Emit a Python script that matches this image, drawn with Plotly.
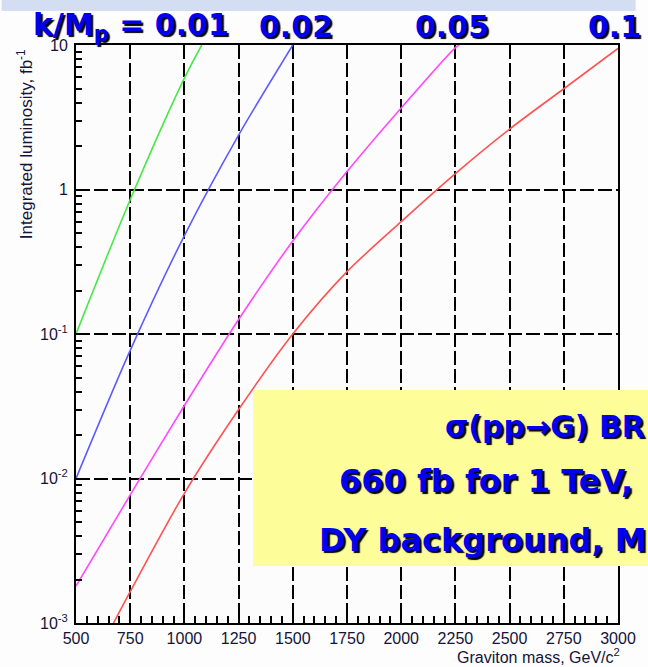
import plotly.graph_objects as go

# Integrated luminosity needed for discovery vs graviton mass, per coupling k/M_p
mass_001 = [500, 750, 1000, 1080]
lumi_001 = [0.1, 0.85, 5.9, 10]

mass_002 = [500, 750, 1000, 1250, 1500]
lumi_002 = [0.01, 0.077, 0.48, 2.38, 10]

mass_005 = [500, 750, 1000, 1250, 1500, 1750, 2000, 2250, 2267]
lumi_005 = [0.0018, 0.0077, 0.032, 0.126, 0.44, 1.33, 3.67, 9.6, 10]

mass_01 = [673, 750, 1000, 1250, 1500, 1750, 2000, 2250, 2500, 2750, 3000]
lumi_01 = [0.001, 0.00165, 0.0079, 0.030, 0.1, 0.27, 0.60, 1.29, 2.62, 4.98, 9.46]

coupling_labels = ["0.01", "0.02", "0.05", "0.1"]
x_ticks = [500, 750, 1000, 1250, 1500, 1750, 2000, 2250, 2500, 2750, 3000]
y_ticks = [0.001, 0.01, 0.1, 1, 10]
y_ticktext = ["10<sup>-3</sup>", "10<sup>-2</sup>", "10<sup>-1</sup>", "1", "10"]
y_minor = [m * 10.0 ** e for e in range(-3, 1) for m in range(2, 10)]

box_lines = ["σ(pp→G) BR", "660 fb for 1 TeV,", "DY background, M("]

W, H = 648, 667
L, R, T, B = 76, 18, 45, 44
PW, PH = W - L - R, H - T - B


def px(x):
    return (x - L) / PW


def py(y):
    return (H - B - y) / PH


fig = go.Figure()
series = [
    (mass_001, lumi_001, "#46e846"),
    (mass_002, lumi_002, "#5c5cff"),
    (mass_005, lumi_005, "#ff48ff"),
    (mass_01, lumi_01, "#ff5252"),
]
for (m, lum, c), name in zip(series, coupling_labels):
    fig.add_trace(go.Scatter(x=m, y=lum, mode="lines", name=name,
                             line=dict(color=c, width=1.6, shape="spline", smoothing=0.8),
                             showlegend=False))

tickfont = dict(family="Liberation Sans", size=16, color="#14143a")

fig.update_xaxes(type="linear", range=[500, 3000], tickvals=x_ticks,
                 ticks="inside", ticklen=12, tickwidth=2, tickcolor="black",
                 showline=True, linecolor="black", linewidth=2, mirror=True,
                 showgrid=True, gridcolor="black", gridwidth=2, griddash="14px,4px",
                 minor=dict(dtick=50, tick0=500, ticks="inside", ticklen=7, tickwidth=1.5,
                            tickcolor="black", showgrid=False),
                 tickfont=tickfont, ticklabeloverflow="allow", zeroline=False)

fig.update_yaxes(type="log", range=[-3, 1], tickvals=y_ticks, ticktext=y_ticktext,
                 ticks="inside", ticklen=12, tickwidth=2, tickcolor="black",
                 showline=True, linecolor="black", linewidth=2, mirror=True,
                 showgrid=True, gridcolor="black", gridwidth=2, griddash="14px,4px",
                 minor=dict(tickmode="array", tickvals=y_minor, ticks="inside", ticklen=6,
                            tickwidth=1.5, tickcolor="black", showgrid=False),
                 tickfont=tickfont, ticklabelstandoff=3, ticklabeloverflow="allow",
                 zeroline=False)

shapes = [
    # light blue strip along the top edge
    dict(type="rect", xref="paper", yref="paper", x0=px(0), x1=px(W), y0=py(11), y1=py(0),
         fillcolor="#d3def2", line=dict(width=0), layer="below"),
    # note box
    dict(type="rect", xref="paper", yref="paper", x0=px(257), x1=px(W + 20), y0=py(566), y1=py(390),
         fillcolor="#fdfd9a", line=dict(width=0), layer="above"),
]

big = dict(family="DejaVu Sans", size=30, color="#0000ee", weight="bold",
           shadow="2px 2px 1px #000000")
boxfont = dict(big, size=32)

annotations = [
    dict(text="k/M<sub>p</sub> = " + coupling_labels[0], x=px(30), y=py(26), xanchor="left", yanchor="middle", font=big),
    dict(text=coupling_labels[1], x=px(261), y=py(26), xanchor="left", yanchor="middle", font=big),
    dict(text=coupling_labels[2], x=px(420), y=py(26), xanchor="left", yanchor="middle", font=big),
    dict(text=coupling_labels[3], x=px(597), y=py(26), xanchor="left", yanchor="middle", font=big),
    dict(text=box_lines[0], x=px(451), y=py(426), xanchor="left", yanchor="middle", font=big),
    dict(text=box_lines[1], x=px(343), y=py(481), xanchor="left", yanchor="middle", font=boxfont),
    dict(text=box_lines[2], x=px(322), y=py(540), xanchor="left", yanchor="middle", font=boxfont),
]
for a in annotations:
    a.update(xref="paper", yref="paper", showarrow=False)

annotations.append(dict(text="Integrated luminosity, fb<sup>-1</sup>", xref="paper", yref="paper",
                        x=px(24), y=py(47), xanchor="center", yanchor="top", textangle=-90,
                        showarrow=False, font=dict(family="Liberation Sans", size=17, color="#14143a")))
annotations.append(dict(text="Graviton mass, GeV/c<sup>2</sup>", xref="paper", yref="paper",
                        x=px(634), y=py(656), xanchor="right", yanchor="middle",
                        showarrow=False, font=dict(family="Liberation Sans", size=16, color="#14143a")))

fig.update_layout(width=W, height=H, margin=dict(l=L, r=R, t=T, b=B),
                  paper_bgcolor="#fdfdfd", plot_bgcolor="#fcfcfc",
                  shapes=shapes, annotations=annotations)

fig.write_html("out.html")
